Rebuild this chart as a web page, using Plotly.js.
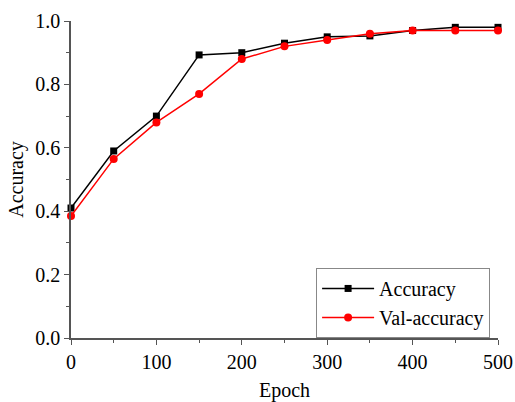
<!DOCTYPE html>
<html><head><meta charset="utf-8">
<script src="https://cdn.plot.ly/plotly-3.0.1.min.js"></script>
<style>html,body{margin:0;padding:0;background:#fff}</style>
</head><body><div id="chart" style="width:515px;height:402px"></div>
<script>
const epochs = [0, 50, 100, 150, 200, 250, 300, 350, 400, 450, 500];
const accuracy = [0.41, 0.59, 0.70, 0.893, 0.90, 0.93, 0.95, 0.953, 0.97, 0.98, 0.98];
const valAccuracy = [0.385, 0.565, 0.68, 0.77, 0.88, 0.92, 0.94, 0.96, 0.97, 0.97, 0.97];
const font = "Liberation Serif, Times New Roman, serif";
const data = [
  {x: epochs, y: accuracy, name: 'Accuracy', mode: 'lines+markers', cliponaxis: false,
   line: {color: '#000000', width: 1.5}, marker: {symbol: 'square', size: 7, color: '#000000'}},
  {x: epochs, y: valAccuracy, name: 'Val-accuracy', mode: 'lines+markers', cliponaxis: false,
   line: {color: '#ff0000', width: 1.5}, marker: {symbol: 'circle', size: 8, color: '#ff0000'}}
];
const layout = {
  width: 515, height: 402,
  margin: {l: 71, r: 17, t: 21, b: 64},
  paper_bgcolor: '#fff', plot_bgcolor: '#fff',
  font: {family: font, size: 20, color: '#000'},
  showlegend: true,
  legend: {x: 0.574, y: 0.221, xanchor: 'left', yanchor: 'top', bordercolor: '#888', borderwidth: 1,
           bgcolor: '#fff', font: {family: font, size: 20}, tracegroupgap: 0, itemwidth: 52},
  xaxis: {range: [0, 500], dtick: 100, tick0: 0, showgrid: false, zeroline: false,
          showline: true, linecolor: '#555', linewidth: 1.5, ticks: 'outside', ticklen: 5, tickcolor: '#555',
          minor: {dtick: 50, ticks: 'outside', ticklen: 3, tickcolor: '#555', showgrid: false},
          title: {text: 'Epoch', font: {family: font, size: 20}, standoff: 14}},
  yaxis: {range: [0, 1], dtick: 0.2, tick0: 0, tickformat: '.1f', showgrid: false, zeroline: false,
          showline: true, linecolor: '#555', linewidth: 1.5, ticks: 'outside', ticklen: 5, tickcolor: '#555',
          minor: {dtick: 0.1, ticks: 'outside', ticklen: 3, tickcolor: '#555', showgrid: false},
          title: {text: 'Accuracy', font: {family: font, size: 20}, standoff: 6}}
};
Plotly.newPlot('chart', data, layout, {displayModeBar: false});
</script></body></html>
